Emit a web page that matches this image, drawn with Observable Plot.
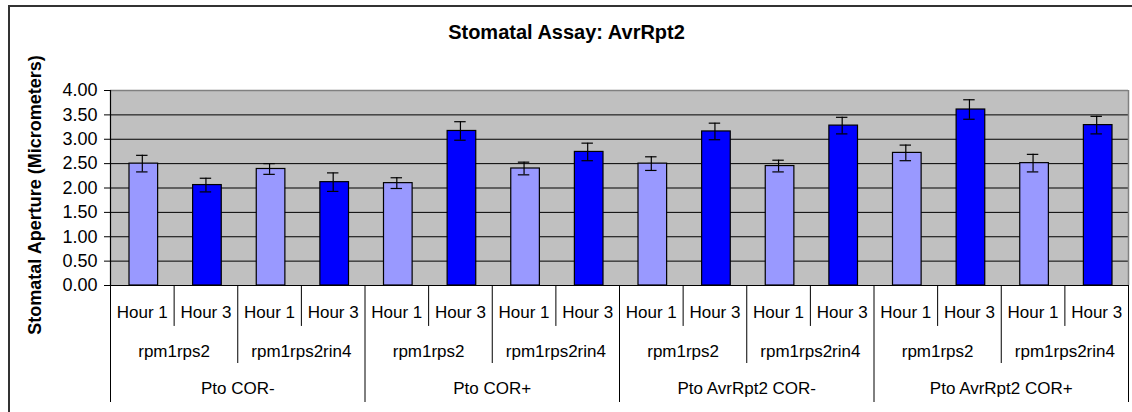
<!DOCTYPE html>
<html><head><meta charset="utf-8">
<script src="https://cdn.jsdelivr.net/npm/d3@7"></script>
<script src="https://cdn.jsdelivr.net/npm/@observablehq/plot@0.6"></script>
<style>
html,body{margin:0;padding:0;background:#fff;overflow:hidden}
#wrap{position:relative;width:1132px;height:412px;overflow:hidden}
#border{position:absolute;left:8px;top:5px;width:1300px;height:600px;border-left:2px solid #333;border-top:2px solid #333;box-sizing:border-box}
#wrap svg{position:absolute;left:0;top:0}
</style></head><body><div id="wrap"><div id="border"></div></div>
<script>
const title = "Stomatal Assay: AvrRpt2";
const yLabel = "Stomatal Aperture (Micrometers)";
const conditions = ["Pto COR-", "Pto COR+", "Pto AvrRpt2 COR-", "Pto AvrRpt2 COR+"];
const genotypes = ["rpm1rps2", "rpm1rps2rin4"];
const hours = ["Hour 1", "Hour 3"];
const values = [2.50, 2.06, 2.39, 2.12,  2.10, 3.17, 2.40, 2.74,  2.50, 3.16, 2.45, 3.28,  2.72, 3.61, 2.51, 3.29];
const errors = [0.17, 0.14, 0.11, 0.19,  0.11, 0.19, 0.13, 0.18,  0.14, 0.17, 0.12, 0.17,  0.16, 0.20, 0.18, 0.18];
const yTicks = [0, 0.5, 1, 1.5, 2, 2.5, 3, 3.5, 4];
const hourColors = ["#9999ff", "#0000ff"];

const rows = [];
conditions.forEach((c, ci) => genotypes.forEach((g, gi) => hours.forEach((h, hi) => {
  const i = ci * 4 + gi * 2 + hi;
  rows.push({i, condition: c, genotype: g, hour: h, value: values[i], err: errors[i]});
})));
const genoRows = [];
conditions.forEach((c, ci) => genotypes.forEach((g, gi) => genoRows.push({k: ci * 2 + gi, genotype: g})));
const condRows = conditions.map((c, ci) => ({k: ci, condition: c}));

// depth levels of the category table below the axis (in y units)
const hourDepth = -0.84, genoDepth = -1.60, condDepth = -2.40;
const hourText = -0.55, genoText = -1.35, condText = -2.11;

const font = "Liberation Sans, Arial, Helvetica, sans-serif";

const plot = Plot.plot({
  width: 1132, height: 412,
  marginLeft: 110, marginRight: 4, marginTop: 90, marginBottom: 127,
  style: {fontFamily: font, background: "transparent", overflow: "visible", color: "#000"},
  x: {domain: [0, 16], axis: null},
  y: {domain: [0, 4], axis: null},
  color: {domain: hours, range: hourColors},
  marks: [
    Plot.frame({fill: "#c0c0c0", stroke: null}),
    Plot.ruleY(yTicks.filter(t => t > 0 && t < 4), {stroke: "#000", strokeWidth: 1}),
    Plot.ruleY([4], {stroke: "#808080", strokeWidth: 1.5}),
    Plot.ruleX([16], {y1: 0, y2: 4, stroke: "#808080", strokeWidth: 1.5}),
    Plot.rectY(rows, {x1: "i", x2: d => d.i + 1, y1: 0, y2: "value", fill: "hour", stroke: "#000", strokeWidth: 1.2, insetLeft: 19, insetRight: 16}),
    Plot.ruleX(rows, {x: d => d.i + 0.5, y1: d => d.value - d.err, y2: d => d.value + d.err, stroke: "#000", strokeWidth: 1.2}),
    Plot.ruleY(rows, {y: d => d.value + d.err, x1: d => d.i + 0.41, x2: d => d.i + 0.59, stroke: "#000", strokeWidth: 1.2}),
    Plot.ruleY(rows, {y: d => d.value - d.err, x1: d => d.i + 0.41, x2: d => d.i + 0.59, stroke: "#000", strokeWidth: 1.2}),
    Plot.axisY({ticks: yTicks, tickFormat: d3.format(".2f"), tickSize: 6, tickPadding: 7, fontSize: 18, stroke: "#000", fill: "#000", label: null}),
    Plot.ruleX([0], {y1: 0, y2: 4, stroke: "#000", strokeWidth: 1.2}),
    Plot.ruleY([0], {x1: 0, x2: 16, stroke: "#000", strokeWidth: 1.2}),
    // category table separators
    Plot.ruleX(rows.filter(d => d.i % 2 === 1), {x: "i", y1: 0, y2: hourDepth, stroke: "#000"}),
    Plot.ruleX(genoRows.filter(d => d.k % 2 === 1), {x: d => d.k * 2, y1: 0, y2: genoDepth, stroke: "#000"}),
    Plot.ruleX([0, 1, 2, 3, 4], {x: d => d * 4, y1: 0, y2: condDepth, stroke: "#000"}),
    // category labels
    Plot.text(rows, {x: d => d.i + 0.5, y: hourText, text: "hour", fontSize: 17, fill: "#000", lineAnchor: "middle"}),
    Plot.text(genoRows, {x: d => d.k * 2 + 1, y: genoText, text: "genotype", fontSize: 17, fill: "#000", lineAnchor: "middle"}),
    Plot.text(condRows, {x: d => d.k * 4 + 2, y: condText, text: "condition", fontSize: 17, fill: "#000", lineAnchor: "middle"}),
    // title and y label
    Plot.text([title], {frameAnchor: "top", dx: -53, dy: -58, text: d => d, fontSize: 20, fontWeight: "bold", fill: "#000", lineAnchor: "middle"}),
    Plot.text([yLabel], {frameAnchor: "left", textAnchor: "middle", dx: -75, dy: 7, rotate: -90, text: d => d, fontSize: 18, fontWeight: "bold", fill: "#000", lineAnchor: "middle"})
  ]
});
document.getElementById("wrap").appendChild(plot);
</script>
</body></html>
